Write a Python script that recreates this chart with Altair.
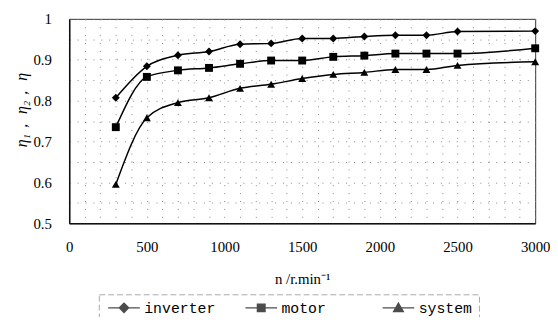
import altair as alt
import pandas as pd

speed = [300, 500, 700, 900, 1100, 1300, 1500, 1700, 1900, 2100, 2300, 2500, 3000]
inverter = [0.807, 0.884, 0.911, 0.920, 0.938, 0.940, 0.952, 0.952, 0.957, 0.960, 0.960, 0.969, 0.970]
motor = [0.735, 0.858, 0.874, 0.880, 0.890, 0.898, 0.898, 0.907, 0.910, 0.915, 0.915, 0.915, 0.928]
system = [0.595, 0.758, 0.795, 0.807, 0.830, 0.840, 0.854, 0.864, 0.869, 0.876, 0.876, 0.886, 0.895]

series_names = ["inverter", "motor", "system"]
x_grid = list(range(0, 3001, 100))
y_grid = [0.5, 0.55, 0.6, 0.65, 0.7, 0.75, 0.8, 0.85, 0.9, 0.95, 1.0]

rows = []
for name, vals in zip(series_names, [inverter, motor, system]):
    for s, v in zip(speed, vals):
        rows.append({"n": s, "eta": v, "series": name})
df = pd.DataFrame(rows)

serif = "Liberation Serif"
mono = "Liberation Mono"

x_axis = alt.Axis(values=x_grid, title="n /r.min⁻¹",
                  labelExpr="datum.value % 500 == 0 ? format(datum.value, 'd') : ''",
                  tickSize=0, ticks=False, labelPadding=17,
                  labelOverlap=False, labelBound=False,
                  labelFont=serif, labelFontSize=15, labelColor="black",
                  titleFont=serif, titleFontSize=15, titleFontWeight="normal",
                  titleColor="black", titleY=56, titleBaseline="middle",
                  grid=True, gridColor="#888", gridDash=[1, 7], gridWidth=1,
                  domainColor="#111", domainWidth=1.5, labelFlush=False)
y_axis = alt.Axis(values=y_grid, title="η₁，  η₂，  η",
                  labelExpr="abs(round(datum.value*10) - datum.value*10) < 0.001 ? (datum.value == 1 ? '1' : format(datum.value, '.1f')) : ''",
                  tickSize=0, ticks=False, labelPadding=18, labelOverlap=False,
                  labelFont=serif, labelFontSize=15, labelColor="black",
                  titleFont=serif, titleFontSize=16, titleFontStyle="italic",
                  titleFontWeight="normal", titleColor="black",
                  titleX=-48, titleY=92, titleBaseline="middle",
                  grid=True, gridColor="#888", gridDash=[1, 7], gridWidth=1,
                  domainColor="#111", domainWidth=1.5, labelFlush=False)

x_enc = alt.X("n:Q", scale=alt.Scale(domain=[0, 3000], nice=False), axis=x_axis)
y_enc = alt.Y("eta:Q", scale=alt.Scale(domain=[0.5, 1.0], nice=False), axis=y_axis)

lines = alt.Chart(df).mark_line(interpolate="monotone", color="black", strokeWidth=1.5).encode(
    x=x_enc, y=y_enc, detail="series:N")

points = alt.Chart(df).mark_point(filled=True, color="black", size=64, opacity=1).encode(
    x=x_enc, y=y_enc,
    shape=alt.Shape("series:N", scale=alt.Scale(domain=series_names,
                                                range=["diamond", "square", "triangle-up"]),
                    legend=None))

# legend glyphs: a short line with the marker in its middle (shifted right of the anchor)
legend_paths = [
    "M-1,0L7,0M3,-1.15L4.15,0L3,1.15L1.85,0Z",
    "M-1,0L7,0M2.05,-0.95L3.95,-0.95L3.95,0.95L2.05,0.95Z",
    "M-1,0L7,0M3,-1.15L4.2,0.95L1.8,0.95Z",
]

legend_layer = alt.Chart(df).transform_filter("false").mark_point(
    filled=True, strokeWidth=1.5, size=64).encode(
    x=x_enc, y=y_enc,
    fill=alt.Fill("series:N", scale=alt.Scale(domain=series_names, range=["black"] * 3)),
    stroke=alt.Stroke("series:N", scale=alt.Scale(domain=series_names, range=["black"] * 3)),
    shape=alt.Shape("series:N", scale=alt.Scale(domain=series_names, range=legend_paths),
                    legend=alt.Legend(title=None, orient="none", legendX=30, legendY=279,
                                      direction="horizontal", columns=3, gridAlign="all",
                                      columnPadding=26, labelOffset=25, padding=6,
                                      strokeColor="#aaa",
                                      symbolSize=64, symbolFillColor="black",
                                      symbolStrokeColor="black", symbolStrokeWidth=1.5,
                                      symbolOpacity=1, labelFont=mono, labelFontSize=15,
                                      labelColor="black")))

chart = alt.layer(lines, points, legend_layer).resolve_scale(
    shape="independent", fill="independent", stroke="independent").properties(
    width=472, height=207,
    autosize=alt.AutoSizeParams(type="none"),
    padding={"left": 62, "top": 9, "right": 15, "bottom": 93},
    background="white",
).configure_view(stroke="#333", strokeWidth=1).configure_legend(strokeDash=[6, 3])

chart.save("out.html", embed_options={"renderer": "svg", "actions": False})
